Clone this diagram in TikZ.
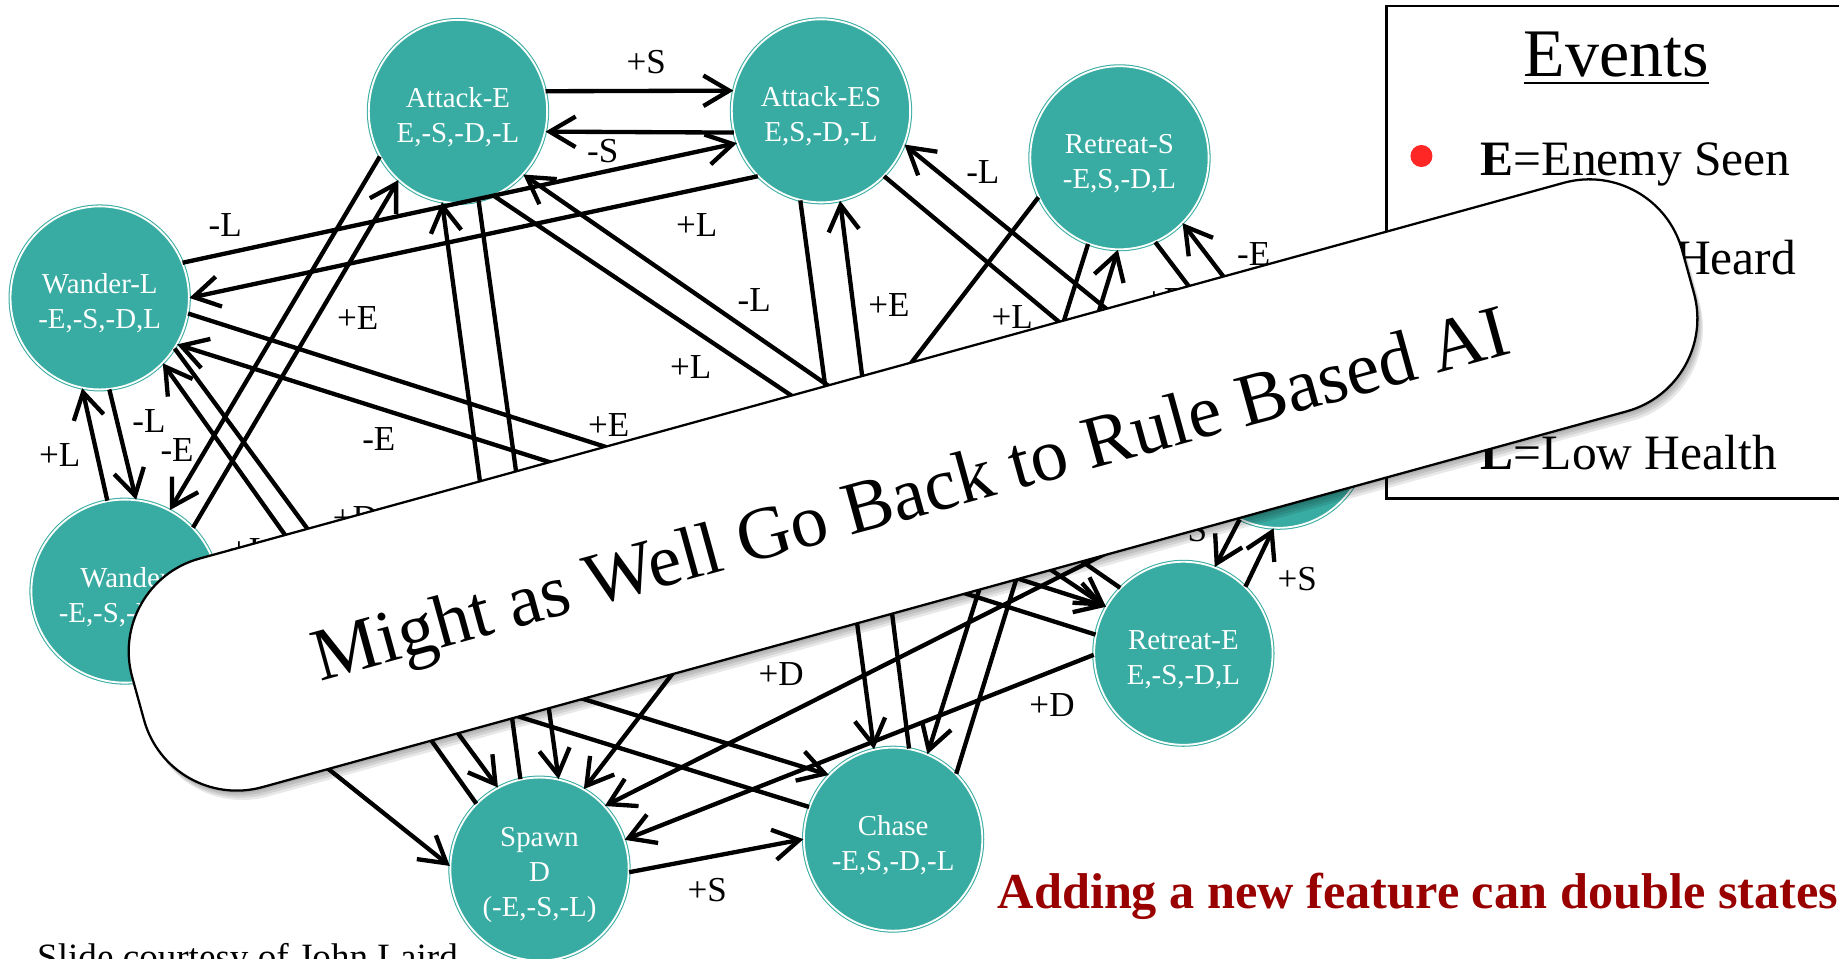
\documentclass[tikz,border=0pt]{standalone}
\usepackage{fontspec}
\setmainfont{Liberation Serif}
\usetikzlibrary{arrows.meta,shapes.geometric}

\definecolor{stateteal}{RGB}{56,172,162}
\definecolor{notered}{RGB}{153,0,0}
\definecolor{dotred}{RGB}{255,38,38}

\newcommand{\topgap}{\rule{0pt}{7.6pt}}

\tikzset{
  state/.style={ellipse, fill=stateteal, draw=stateteal, double=white,
    double distance=0.45pt, line width=0.25pt, minimum width=1.52cm,
    minimum height=1.56cm, inner sep=0pt, text=white, align=center,
    font=\fontsize{7}{8.5}\selectfont},
  tr/.style={line width=1.05pt, -{Straight Barb[length=2.2mm,width=2.6mm]}},
  lbl/.style={font=\fontsize{8.5}{10}\selectfont, inner sep=0pt},
  legendtext/.style={font=\fontsize{12}{14}\selectfont, inner sep=0pt, anchor=base west},
  bannershape/.style={rounded corners=0.82cm, minimum width=13.7cm,
    minimum height=2.02cm, rotate=15.4},
  banner/.style={bannershape, draw, fill=white, line width=0.55pt},
  shade/.style={bannershape, fill=black, opacity=0.09},
}

\begin{document}
\begin{tikzpicture}[x=0.01cm, y=-0.01cm]
\useasboundingbox (0,0) rectangle (1568,817);
\clip (0,0) rectangle (1568,817);

%states
\node[state] (AE) at (390.5,95) {\topgap Attack-E\\E,-S,-D,-L};
\node[state] (AES) at (700,94.5) {\topgap Attack-ES\\E,S,-D,-L};
\node[state] (RS) at (954.5,134.5) {\topgap Retreat-S\\-E,S,-D,L};
\node[state] (WL) at (85,254) {\topgap Wander-L\\-E,-S,-D,L};
\node[state] (W) at (106.5,504) {\topgap Wander\\-E,-S,-D,-L};
\node[state] (SP) at (460,741) {\topgap Spawn\\D\\(-E,-S,-L)};
\node[state] (CH) at (761.5,715.5) {\topgap Chase\\-E,S,-D,-L};
\node[state] (RE) at (1009,557) {\topgap Retreat-E\\E,-S,-D,L};
\node[state] (RES) at (1090,372) {};

%transitions
\draw[tr] (AE.13) -- (AES.167);
\draw[tr] (AES.194) -- (AE.-13);
\draw[tr] (WL.23) -- (AES.201);
\draw[tr] (AES.226) -- (WL.0);
\draw[tr] (WL.-10) -- (RE.149);
\draw[tr] (RE.168) -- (WL.-31);
\draw[tr] (SP.134) -- (WL.-46);
\draw[tr] (WL.-34) -- (SP.117);
\draw[tr] (WL.-84) -- (W.83);
\draw[tr] (W.101) -- (WL.259);
\draw[tr] (AE.210) -- (W.61);
\draw[tr] (W.43) -- (AE.229);
\draw[tr] (SP.102) -- (AE.260);
\draw[tr] (AE.-77) -- (SP.78);
\draw[tr] (AE.-67) -- (RE.149);
\draw[tr] (RE.134) -- (AE.-44);
\draw[tr] (AES.257) -- (CH.102);
\draw[tr] (CH.80) -- (AES.-78);
\draw[tr] (RES.147) -- (AES.-22);
\draw[tr] (AES.-46) -- (RES.176);
\draw[tr] (RS.206) -- (SP.61);
\draw[tr] (RS.250) -- (CH.68);
\draw[tr] (CH.46) -- (RS.269);
\draw[tr] (RS.-67) -- (RES.115);
\draw[tr] (RES.92) -- (RS.-46);
\draw[tr] (RE.47) -- (RES.267);
\draw[tr] (RES.245) -- (RE.70);
\draw[tr] (RE.181) -- (SP.19);
\draw[tr] (RES.224) -- (SP.44);
\draw[tr] (W.-46) -- (SP.178);
\draw[tr] (W.3) -- (CH.135);
\draw[tr] (CH.159) -- (W.-19);
\draw[tr] (SP.-2) -- (CH.180);

%labels
\node[lbl] at (551,53) {+S};
\node[lbl] at (514,129) {-S};
\node[lbl] at (192,192) {-L};
\node[lbl] at (594,192) {+L};
\node[lbl] at (305,271) {+E};
\node[lbl] at (643,256) {-L};
\node[lbl] at (758,260) {+E};
\node[lbl] at (589,313) {+L};
\node[lbl] at (519,362) {+E};
\node[lbl] at (838,147) {-L};
\node[lbl] at (863,270) {+L};
\node[lbl] at (1069,217) {-E};
\node[lbl] at (993,256) {+E};
\node[lbl] at (127,359) {-L};
\node[lbl] at (51,388) {+L};
\node[lbl] at (151,384) {-E};
\node[lbl] at (323,374) {-E};
\node[lbl] at (303,442) {+D};
\node[lbl] at (213,469) {+L};
\node[lbl] at (666,575) {+D};
\node[lbl] at (897,601) {+D};
\node[lbl] at (603,759) {+S};
\node[lbl] at (1106,494) {+S};
\node[lbl] at (1016,452) {-S};

%legend
\draw[line width=0.6pt] (1182,5) rectangle (1600,425);
\node[font=\fontsize{16.5}{18}\selectfont, inner sep=0pt, anchor=base] (ev) at (1378,65) {\underline{Events}};
\fill[dotred] (1212,133) circle (9.4);
\node[legendtext] (le) at (1262,150) {\textbf{E}=Enemy Seen};
\node[legendtext] (ls) at (1262,234) {\textbf{S}=Sound Heard};
\node[legendtext] (ll) at (1262,400) {\textbf{L}=Low Health};

%banner with soft shadow
\foreach \d in {2,4,6,8}
  \node[shade] at (778.5+0.6*\d,413.5+\d) {};
\node[banner] (bn) at (778.5,413.5) {};
\node[rotate=15.4, anchor=base, inner sep=0pt, font=\fontsize{18.1}{20}\selectfont] (bt) at (782,441) {Might as Well Go Back to Rule Based AI};

%footer
\node[anchor=base west, inner sep=0pt, font=\fontsize{9}{11}\selectfont] (cr) at (31,827) {Slide courtesy of John Laird};
\node[anchor=base west, inner sep=0pt, text=notered, font=\fontsize{12.2}{14}\selectfont\bfseries] (nt) at (850,775) {Adding a new feature can double states};
\end{tikzpicture}
\end{document}
